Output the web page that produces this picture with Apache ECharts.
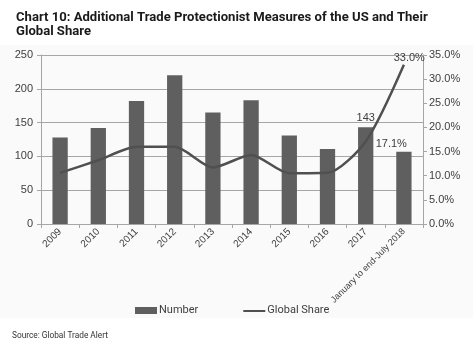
<!DOCTYPE html>
<html>
<head>
<meta charset="utf-8">
<script src="https://cdn.jsdelivr.net/npm/echarts@6/dist/echarts.min.js"></script>
<style>
  html, body { margin: 0; padding: 0; background: #fff; }
  #chart { width: 473px; height: 351px; }
</style>
</head>
<body>
<div id="chart"></div>
<script>
var categories = ['2009', '2010', '2011', '2012', '2013', '2014', '2015', '2016', '2017', 'January to end-July 2018'];
var numbers = [128, 142, 182, 220, 165, 183, 131, 111, 143, 107];
var globalShare = [10.6, 13.2, 16.0, 16.0, 11.7, 14.3, 10.5, 10.6, 17.1, 33.0];
var leftTicks = [0, 50, 100, 150, 200, 250];
var rightTicks = [0, 5, 10, 15, 20, 25, 30, 35];

var titleLine1 = 'Chart 10: Additional Trade Protectionist Measures of the US and Their';
var titleLine2 = 'Global Share';
var sourceText = 'Source: Global Trade Alert';

// pick a font size so a text fits a given width
function fitSize(text, family, weight, width) {
    var ctx = document.createElement('canvas').getContext('2d');
    ctx.font = weight + ' 100px ' + family;
    return Math.floor(100 * width / ctx.measureText(text).width * 10) / 10;
}

var titleSize = fitSize(titleLine1, 'Roboto', 'bold', 415);
var sourceSize = fitSize(sourceText, 'Roboto', 'normal', 97);

var myChart = echarts.init(document.getElementById('chart'));

var labelFont = 'Liberation Sans';
var pct = function (p) { return p.value.toFixed(1) + '%'; };

var catData = categories.map(function (c, i) {
    return i === categories.length - 1 ? {value: c, textStyle: {fontSize: 9}} : c;
});
var barData = numbers.map(function (v, i) {
    var d = {value: v};
    if (i === 8) d.label = {show: true, position: 'top', distance: 4, color: '#404040', fontSize: 11, fontFamily: labelFont};
    return d;
});
var lineData = globalShare.map(function (v, i) {
    var d = {value: v};
    if (i === 8) d.label = {show: true, position: 'right', offset: [5, 3], formatter: pct};
    if (i === 9) d.label = {show: true, position: 'left', offset: [26, -7], formatter: pct};
    return d;
});

var option = {
    backgroundColor: '#fff',
    title: {
        text: titleLine1 + '\n' + titleLine2,
        left: 11,
        top: 6,
        textStyle: {
            fontFamily: 'Roboto',
            fontWeight: 'bold',
            fontSize: titleSize,
            lineHeight: 14,
            color: '#1a1a1a'
        }
    },
    graphic: [{
        type: 'rect',
        silent: true,
        z: -10,
        shape: {x: 0, y: 45, width: 473, height: 273},
        style: {fill: '#fafafa'}
    }, {
        type: 'text',
        left: 12,
        top: 332,
        style: {text: sourceText, font: sourceSize + 'px Roboto', fill: '#333'}
    }],
    legend: {
        top: 300,
        left: 130,
        itemGap: 45,
        itemWidth: 22,
        itemHeight: 7,
        textStyle: {fontFamily: 'Roboto', fontSize: 11, color: '#404040', padding: [0, 0, 0, -3]},
        data: [
            {name: 'Number', icon: 'rect'},
            {name: 'Global Share', icon: 'path://M0,0 L0,0 M0,3 L22,3 L22,5 L0,5 Z M0,7 L0,7'}
        ]
    },
    grid: {left: 41, right: 50, top: 55, bottom: 127},
    xAxis: {
        type: 'category',
        data: catData,
        axisLine: {lineStyle: {color: '#a6a6a6'}},
        axisTick: {show: true, length: 4, lineStyle: {color: '#a6a6a6'}},
        axisLabel: {rotate: 45, fontSize: 10, color: '#404040', fontFamily: labelFont, margin: 6, interval: 0}
    },
    yAxis: [{
        type: 'value',
        min: 0,
        max: 250,
        interval: 50,
        axisLine: {show: true, lineStyle: {color: '#a6a6a6'}},
        axisTick: {show: true, length: 4, lineStyle: {color: '#a6a6a6'}},
        axisLabel: {fontSize: 11, color: '#404040', fontFamily: labelFont, margin: 8,
            customValues: leftTicks},
        splitLine: {lineStyle: {color: '#a6a6a6'}}
    }, {
        type: 'value',
        min: 0,
        max: 35,
        interval: 5,
        axisLine: {show: true, lineStyle: {color: '#a6a6a6'}},
        axisTick: {show: true, length: 4, lineStyle: {color: '#a6a6a6'}},
        axisLabel: {fontSize: 11, color: '#404040', fontFamily: labelFont, margin: 6,
            customValues: rightTicks,
            formatter: function (v) { return v.toFixed(1) + '%'; }},
        splitLine: {show: false}
    }],
    series: [{
        name: 'Number',
        type: 'bar',
        barWidth: '40%',
        itemStyle: {color: '#5f5f5f'},
        data: barData
    }, {
        name: 'Global Share',
        type: 'line',
        yAxisIndex: 1,
        smooth: 0.25,
        symbol: 'circle',
        symbolSize: 0,
        lineStyle: {color: '#505050', width: 2.5},
        itemStyle: {color: '#505050'},
        label: {color: '#404040', fontSize: 11, fontFamily: labelFont},
        data: lineData
    }]
};

myChart.setOption(option);
</script>
</body>
</html>
